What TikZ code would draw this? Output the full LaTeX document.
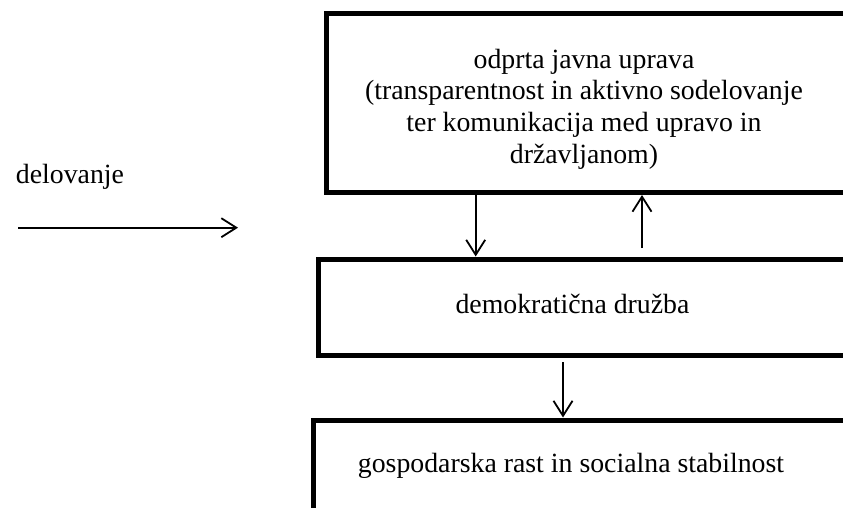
\documentclass[tikz,border=0pt]{standalone}
\usepackage{fontspec}
\setmainfont{Liberation Serif}
\usetikzlibrary{arrows.meta}

\begin{document}
\begin{tikzpicture}[x=1pt,y=-1pt,
  panel/.style={draw=black,line width=5pt,rectangle,inner sep=0pt,
                anchor=north west,minimum width=560pt},
  label/.style={inner sep=0pt,font=\fontsize{27.8}{31.7}\selectfont,align=center},
  flow/.style={line width=1.8pt,-{Straight Barb[length=15pt,width=19pt,line width=1.8pt]}}]
  \useasboundingbox (0,0) rectangle (843,508);
  \clip (0,0) rectangle (843,508);

  % boxes, running past the right edge
  \node[panel,minimum height=179.2pt] (b1) at (324,10.8) {};
  \node[panel,minimum height=96pt]    (b2) at (316,256.5) {};
  \node[panel,minimum height=95pt]    (b3) at (311,417.5) {};

  % box texts
  \node[label] (t1) at (584,109) {odprta javna uprava\\(transparentnost in aktivno sodelovanje\\ter komunikacija med upravo in\\državljanom)};
  \node[label,anchor=base] (t2) at (572.5,313) {demokratična družba};
  \node[label,anchor=base] (t3) at (571,472.7) {gospodarska rast in socialna stabilnost};

  % action arrow on the left
  \node[label,anchor=base] (act) at (70,183) {delovanje};
  \coordinate (a0) at (18,227.7);
  \coordinate (a1) at (238,227.7);
  \draw[flow] (a0) -- (a1);

  % links between the boxes
  \coordinate (x1) at (475.7,0);
  \coordinate (x2) at (642,248);
  \coordinate (x3) at (563,362);
  \draw[flow] (b1.south -| x1) -- (b2.north -| x1);
  \draw[flow] (x2) -- (b1.south -| x2);
  \draw[flow] (x3) -- (b3.north -| x3);
\end{tikzpicture}
\end{document}
